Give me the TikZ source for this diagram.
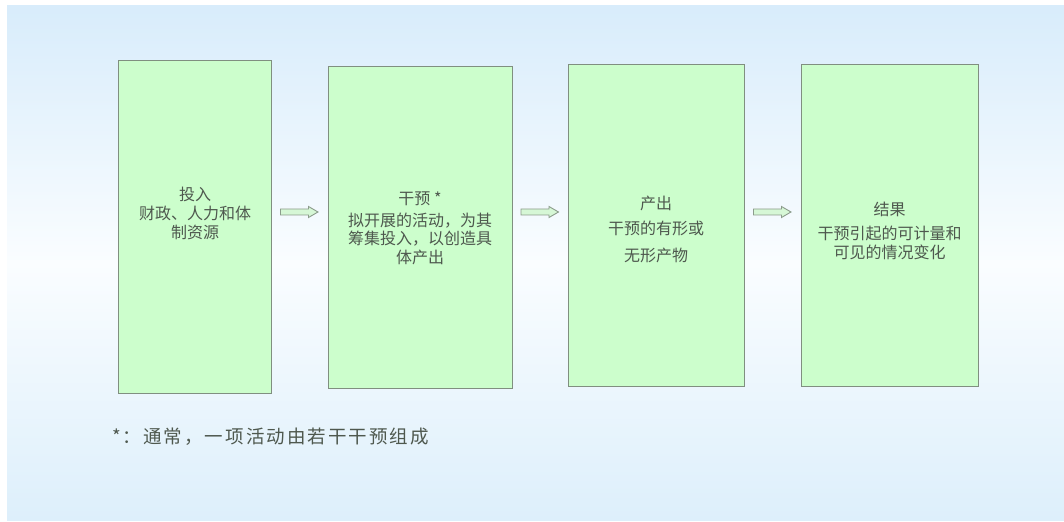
\documentclass[tikz,border=0pt]{standalone}
\usepackage{fontspec}
\setmainfont{Noto Sans CJK SC}
\newfontfamily\footfont[LetterSpace=11]{Noto Sans CJK SC}
\usetikzlibrary{calc}
\definecolor{bgtop}{HTML}{D8ECFB}
\definecolor{bgmid}{HTML}{FAFDFF}
\definecolor{bgbot}{HTML}{DDEFFB}
\definecolor{boxfill}{HTML}{CCFECC}
\definecolor{boxline}{HTML}{808F80}
\definecolor{txt}{HTML}{4E584E}
\definecolor{arrline}{HTML}{8C9C8C}
\definecolor{arrfill}{HTML}{D6F7D6}
\tikzset{
  stagebox/.style={draw=boxline, line width=1bp, fill=boxfill},
  boxtext/.style={text=txt, align=center, inner sep=0pt,
    font=\fontsize{16bp}{18.5bp}\selectfont},
  foottext/.style={text=txt, anchor=west, inner sep=0pt,
    font=\footfont\fontsize{18.5bp}{22bp}\selectfont},
  blockarrow/.style={draw=arrline, line width=0.9bp, fill=arrfill, line join=miter},
}
\begin{document}
\begin{tikzpicture}[x=1bp,y=-1bp]
\useasboundingbox (0,0) rectangle (1064,522);
\fill[white] (0,0) rectangle (1064,522);
% background gradient
\shade[top color=bgtop, bottom color=bgmid] (7,6) rectangle (1064,263);
\shade[top color=bgmid, bottom color=bgbot] (7,263) rectangle (1064,520);
% boxes
\draw[stagebox] (118,61) rectangle (271,393);
\coordinate (b1w) at (118,212); \coordinate (b1e) at (271,212);
\draw[stagebox] (328,67) rectangle (512,388);
\coordinate (b2w) at (328,212); \coordinate (b2e) at (512,212);
\draw[stagebox] (568,65) rectangle (744,386);
\coordinate (b3w) at (568,212); \coordinate (b3e) at (744,212);
\draw[stagebox] (801,65) rectangle (978,386);
\coordinate (b4w) at (801,212); \coordinate (b4e) at (978,212);
% texts
\node[boxtext] (t1) at (195,213) {投入\\[0.5bp]财政、人力和体\\[0.5bp]制资源};
\node[boxtext] (t2) at (420,228.5) {干预 *\\[3bp]拟开展的活动，为其\\筹集投入，以创造具\\体产出};
\node[boxtext] (t3) at (656,229) {产出\\[6.5bp]干预的有形或\\[8.5bp]无形产物};
\node[boxtext] (t4) at (889.5,231) {结果\\[5.5bp]干预引起的可计量和\\可见的情况变化};
% arrows
\foreach \a/\b in {b1e/b2w,b2e/b3w,b3e/b4w}{
  \coordinate (m) at ($(\a)!0.5!(\b)$);
  \draw[blockarrow] ($(m)+(-19,-3)$) -- ++(28,0) -- ++(0,-2.5) -- ++(9.5,5.5)
     -- ++(-9.5,5.5) -- ++(0,-2.5) -- ++(-28,0) -- cycle;
}
\node[foottext] (fn) at (112,437) {*：通常，一项活动由若干干预组成};
\end{tikzpicture}
\end{document}
